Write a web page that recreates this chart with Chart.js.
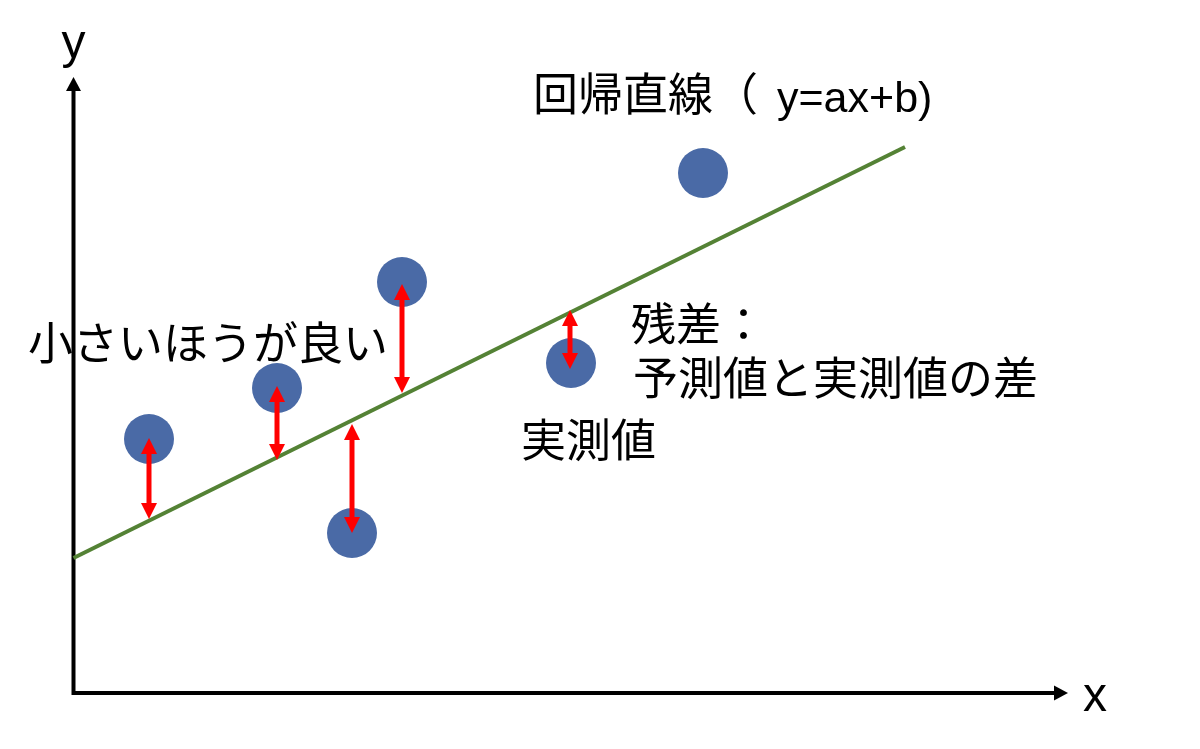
<!DOCTYPE html>
<html>
<head>
<meta charset="utf-8">
<script src="https://cdn.jsdelivr.net/npm/chart.js@4"></script>
<style>
  body { margin: 0; background: #fff; }
  canvas { display: block; }
</style>
</head>
<body>
<canvas id="chart" width="1200" height="749"></canvas>
<script>
// 実測値
const pointX = [0.755, 2.035, 2.785, 3.285, 4.975, 6.295];
const pointY = [2.54, 3.05, 1.60, 4.11, 3.30, 5.20];

// 回帰直線 (両端)
const lineX = [0, 8.315];
const lineY = [1.35, 5.46];

// 残差の矢印 (上端・下端)
const residualX = [0.755, 2.035, 2.785, 3.285, 4.965];
const residualTop = [2.55, 3.07, 2.69, 4.09, 3.83];
const residualBottom = [1.74, 2.33, 1.60, 3.00, 3.24];

// 軸の長さ
const axisXEnd = 9.945;
const axisYEnd = 6.16;

const FONT = '"Liberation Sans", "Noto Sans CJK JP", sans-serif';

// 注釈テキスト
const labels = [
    { text: 'y', x: 0, y: 6.35, size: 48, align: 'center' },
    { text: 'x', x: 10.095, y: -0.18, size: 48, align: 'left' },
    { text: '回帰直線（', x: 4.595, y: 5.82, size: 45, align: 'left' },
    { text: 'y=ax+b)', x: 7.035, y: 5.81, size: 43, align: 'left' },
    { text: '小さいほうが良い', x: -0.455, y: 3.33, size: 45, align: 'left' },
    { text: '残差：', x: 5.575, y: 3.52, size: 45, align: 'left' },
    { text: '予測値と実測値の差', x: 5.595, y: 2.98, size: 45, align: 'left' },
    { text: '実測値', x: 4.475, y: 2.36, size: 45, align: 'left' }
];

function arrowHead(ctx, x, y, dir, len, half) {
    ctx.beginPath();
    ctx.moveTo(x, y);
    ctx.lineTo(x - half, y - dir * len);
    ctx.lineTo(x + half, y - dir * len);
    ctx.closePath();
    ctx.fill();
}

const diagramPlugin = {
    id: 'diagram',
    beforeDatasetsDraw(chart) {
        const ctx = chart.ctx;
        const xs = chart.scales.x, ys = chart.scales.y;
        const ox = xs.getPixelForValue(0), oy = ys.getPixelForValue(0);
        const ex = xs.getPixelForValue(axisXEnd);
        const ey = ys.getPixelForValue(axisYEnd);
        ctx.save();
        ctx.strokeStyle = '#000';
        ctx.fillStyle = '#000';
        ctx.lineWidth = 4;
        ctx.lineCap = 'square';
        ctx.beginPath();
        ctx.moveTo(ox, ey + 12);
        ctx.lineTo(ox, oy);
        ctx.lineTo(ex - 12, oy);
        ctx.stroke();
        // y軸の矢印
        ctx.beginPath();
        ctx.moveTo(ox, ey);
        ctx.lineTo(ox - 7.5, ey + 14);
        ctx.lineTo(ox + 7.5, ey + 14);
        ctx.closePath();
        ctx.fill();
        // x軸の矢印
        ctx.beginPath();
        ctx.moveTo(ex, oy);
        ctx.lineTo(ex - 14, oy - 7.5);
        ctx.lineTo(ex - 14, oy + 7.5);
        ctx.closePath();
        ctx.fill();
        ctx.restore();
    },
    afterDatasetsDraw(chart) {
        const ctx = chart.ctx;
        const xs = chart.scales.x, ys = chart.scales.y;
        ctx.save();
        // 残差の矢印
        ctx.strokeStyle = '#FF0000';
        ctx.fillStyle = '#FF0000';
        ctx.lineWidth = 5;
        residualX.forEach((v, i) => {
            const px = xs.getPixelForValue(v);
            const top = ys.getPixelForValue(residualTop[i]);
            const bot = ys.getPixelForValue(residualBottom[i]);
            ctx.beginPath();
            ctx.moveTo(px, top + 12);
            ctx.lineTo(px, bot - 12);
            ctx.stroke();
            arrowHead(ctx, px, top, -1, 16, 8);
            arrowHead(ctx, px, bot, 1, 16, 8);
        });
        // テキスト
        ctx.fillStyle = '#000';
        ctx.textBaseline = 'alphabetic';
        labels.forEach(l => {
            ctx.font = l.size + 'px ' + FONT;
            ctx.textAlign = l.align;
            ctx.fillText(l.text, xs.getPixelForValue(l.x), ys.getPixelForValue(l.y));
        });
        ctx.restore();
    }
};

const ctx = document.getElementById('chart').getContext('2d');
new Chart(ctx, {
    type: 'scatter',
    data: {
        datasets: [
            {
                label: '実測値',
                data: pointX.map((x, i) => ({ x: x, y: pointY[i] })),
                backgroundColor: '#4A6AA6',
                borderWidth: 0,
                pointRadius: 25,
                pointHoverRadius: 25,
                order: 1
            },
            {
                label: '回帰直線',
                type: 'line',
                data: lineX.map((x, i) => ({ x: x, y: lineY[i] })),
                borderColor: '#548235',
                borderWidth: 4,
                pointRadius: 0,
                fill: false,
                order: 2
            }
        ]
    },
    options: {
        responsive: false,
        animation: false,
        layout: { padding: 0, autoPadding: false },
        plugins: {
            legend: { display: false },
            tooltip: { enabled: false }
        },
        scales: {
            x: { type: 'linear', min: -0.735, max: 11.265, display: false },
            y: { type: 'linear', min: -0.56, max: 6.93, display: false }
        }
    },
    plugins: [diagramPlugin]
});
</script>
</body>
</html>
